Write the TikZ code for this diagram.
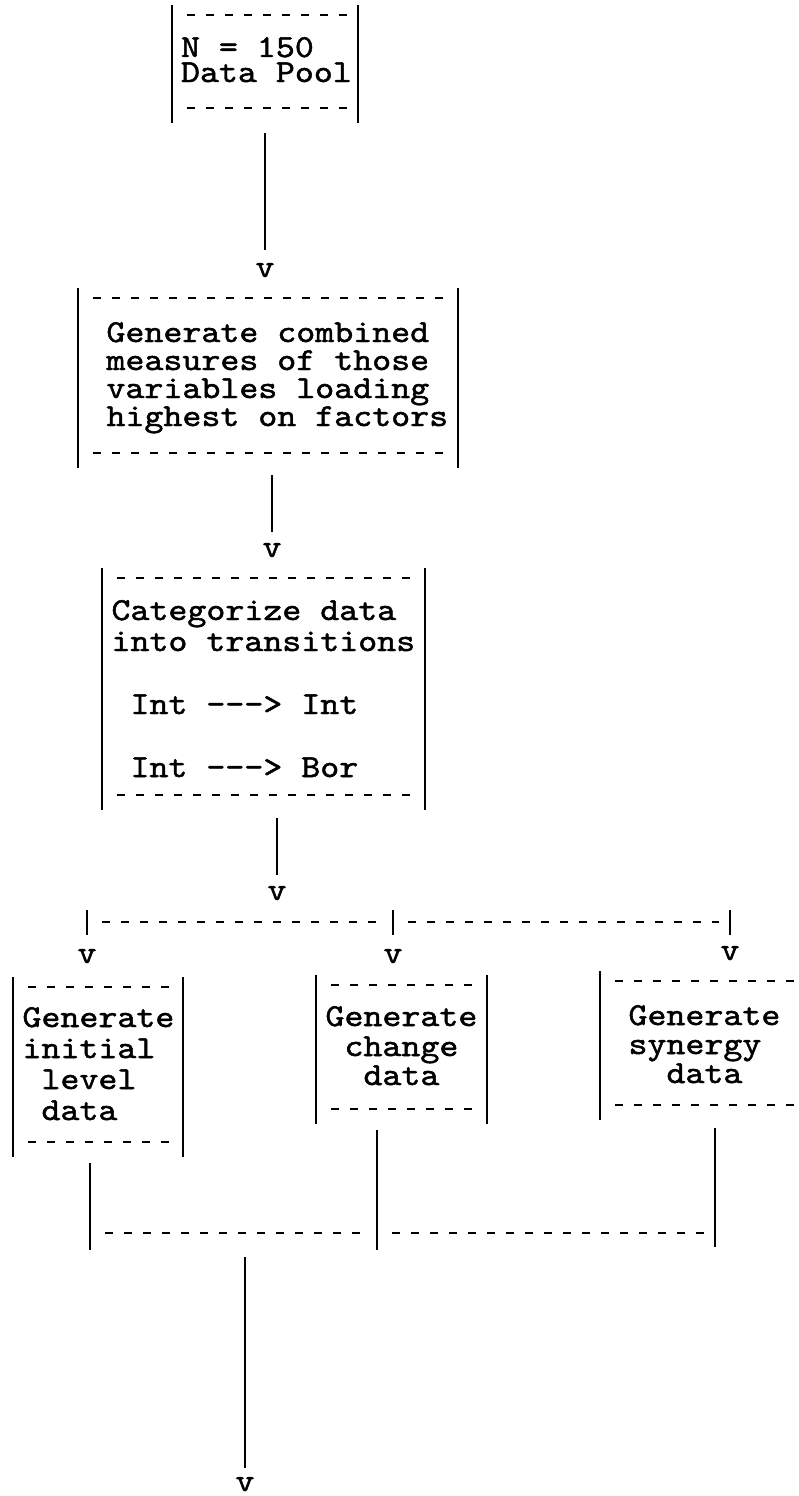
\documentclass[tikz,border=0pt]{standalone}
\usepackage{fontspec}
\usetikzlibrary{calc}
% typewriter face used for every label and arrow mark (widened to a 19pt pitch)
\newfontfamily\tw{lmmono10-regular.otf}[FakeBold=1.5,FakeStretch=1.13,Ligatures=TeXOff]
\newcommand\twsize{\fontsize{32}{32}\selectfont}
% side bars and dashed top/bottom rows of a typed box
\newcommand\twborder[1]{%
  \draw[bar] ([yshift=10pt]#1.north west) -- ([yshift=-15pt]#1.south west);
  \draw[bar] ([yshift=10pt]#1.north east) -- ([yshift=-15pt]#1.south east);
  \draw[dashrow] ([xshift=15pt]#1.north west) -- ([xshift=-10pt]#1.north east);
  \draw[dashrow] ([xshift=15pt]#1.south west) -- ([xshift=-10pt]#1.south east);}
\begin{document}
\begin{tikzpicture}[x=1pt,y=-1pt,
  txt/.style={font=\tw\twsize,inner sep=0pt,outer sep=0pt,anchor=base west},
  vmark/.style={font=\tw\twsize,inner sep=0pt,outer sep=0pt,anchor=base},
  tbox/.style={rectangle,inner sep=0pt,outer sep=0pt},
  bar/.style={line width=2.7pt},
  conn/.style={line width=2.7pt},
  dashrow/.style={line width=2.4pt,dash pattern=on 8pt off 11pt}]
\useasboundingbox (0,0) rectangle (798,1496);
\clip (0,0) rectangle (798,1496);
\fill[white] (0,0) rectangle (798,1496);

% ---- data pool
\node[tbox,minimum width=186pt,minimum height=93pt] (b1) at (265,61.5) {};
\twborder{b1}
\node[txt] (t1a) at (181,57) {N = 150};
\node[txt] (t1b) at (181,82) {Data Pool};
\node[vmark] (v1) at (265,277) {v};
\draw[conn] ([yshift=-25pt]b1.south) -- ([yshift=13pt]v1.north);

% ---- combined measures
\node[tbox,minimum width=380pt,minimum height=155pt] (b2) at (268,375.5) {};
\twborder{b2}
\node[txt] (t2a) at (106.5,342) {Generate combined};
\node[txt] (t2b) at (106.5,370) {measures of those};
\node[txt] (t2c) at (106.5,398) {variables loading};
\node[txt] (t2d) at (106.5,426) {highest on factors};
\node[vmark] (v2) at (272,557) {v};
\draw[conn] ($(b2.south -| v2.north)+(0,22)$) -- ([yshift=11.4pt]v2.north);

% ---- transitions
\node[tbox,minimum width=323pt,minimum height=217pt] (b3) at (263.5,686.5) {};
\twborder{b3}
\node[txt] (t3a) at (111.5,620) {Categorize data};
\node[txt] (t3b) at (111.5,651) {into transitions};
\node[txt] (t3c) at (130.5,714) {Int ---> Int};
\node[txt] (t3d) at (130.5,777) {Int ---> Bor};
\node[vmark] (v3) at (277,900) {v};
\draw[conn] ($(b3.south -| v3.north)+(0,23)$) -- ([yshift=11.4pt]v3.north);

% ---- three-way split
\coordinate (d1) at (87,922);
\coordinate (d2) at (393,922);
\coordinate (d3) at (730,922);
\foreach \p in {d1,d2,d3}
  \draw[bar] ([yshift=12pt]\p) -- ([yshift=-13pt]\p);
\draw[dashrow] ([xshift=15pt]d1) -- ([xshift=-11pt]d2);
\draw[dashrow] ([xshift=15pt]d2) -- ([xshift=-11pt]d3);
\node[vmark] (v4) at (87,963) {v};
\node[vmark] (v5) at (393,963) {v};
\node[vmark] (v6) at (730,960) {v};

% ---- the three generators
\node[tbox,minimum width=170pt,minimum height=155pt] (b4) at (98,1064.5) {};
\twborder{b4}
\node[txt] (t4a) at (22.5,1027) {Generate};
\node[txt] (t4b) at (22.5,1058) {initial};
\node[txt] (t4c) at (41.5,1089) {level};
\node[txt] (t4d) at (41.5,1120) {data};

\node[tbox,minimum width=171pt,minimum height=124pt] (b5) at (401.5,1047) {};
\twborder{b5}
\node[txt] (t5a) at (325.5,1026) {Generate};
\node[txt] (t5b) at (344.5,1056) {change};
\node[txt] (t5c) at (363.5,1085) {data};

\node[tbox,minimum width=209pt,minimum height=124pt] (b6) at (704.5,1043) {};
\twborder{b6}
\node[txt] (t6a) at (628.5,1025) {Generate};
\node[txt] (t6b) at (628.5,1054) {synergy};
\node[txt] (t6c) at (666.5,1083) {data};

% ---- merge
\coordinate (m1) at (90,1233);
\coordinate (m2) at (377,1233);
\coordinate (m3) at (715,1233);
\draw[conn] ($(b4.south -| m1)+(0,21)$) -- ([yshift=-17pt]m1);
\draw[conn] ($(b5.south -| m2)+(0,21)$) -- ([yshift=-17pt]m2);
\draw[conn] ($(b6.south -| m3)+(0,23)$) -- ([yshift=-14pt]m3);
\draw[bar] ([yshift=6pt]m1) -- (m1);
\draw[bar] ([yshift=6pt]m2) -- (m2);
\draw[bar] ([yshift=18pt]m3) -- (m3);
\draw[dashrow] ([xshift=15pt]m1) -- ([xshift=-11pt]m2);
\draw[dashrow] ([xshift=15pt]m2) -- ([xshift=-11pt]m3);
\node[vmark] (v7) at (245,1491) {v};
\draw[conn] ($(m1 -| v7.north)+(0,24)$) -- ([yshift=9pt]v7.north);
\end{tikzpicture}
\end{document}
